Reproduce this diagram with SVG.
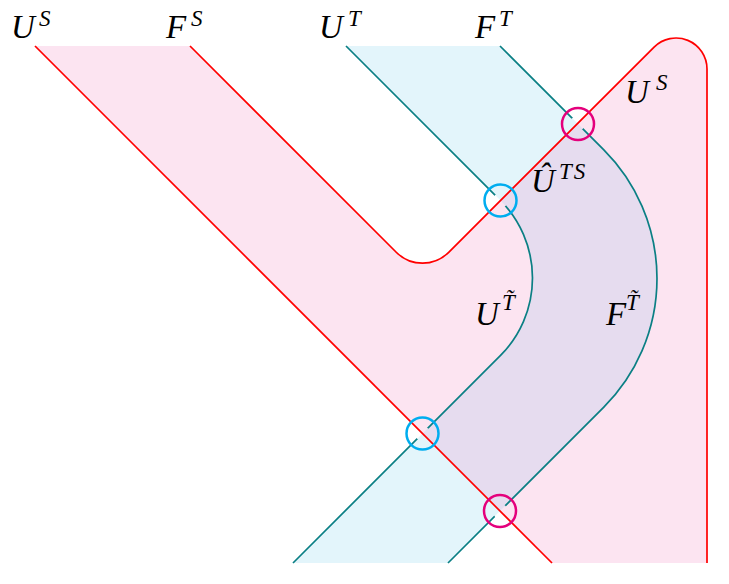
<svg xmlns="http://www.w3.org/2000/svg" width="729" height="584" viewBox="0 0 729 584">
<style>
.lbl{font-family:"Liberation Serif","DejaVu Serif",serif;font-style:italic;font-size:33px;fill:#000}
.sup{font-family:"Liberation Serif","DejaVu Serif",serif;font-style:italic;font-size:23px;fill:#000}
.red{fill:none;stroke:#ff0000;stroke-width:1.7}
.teal{fill:none;stroke:#0a7f84;stroke-width:1.7}
.ring{fill:none;stroke-width:2.5}
</style>
<defs>
<path id="pinkRegion" d="M35,46 L190,46 L396.5,252.5 A37,37 0 0 0 448.7,252.3 L654.1,47.1 A31,31 0 0 1 707,69 L707,563 L552,563 Z"/>
<path id="band" d="M346,46 L500,46 L603.6,149.6 A182.3,182.3 0 0 1 603.6,407.4 L448,563 L293,563 L500.3,355.7 A109.9,109.9 0 0 0 500.3,200.3 Z"/>
<clipPath id="pinkClip"><use href="#pinkRegion"/></clipPath>
<mask id="gaps" maskUnits="userSpaceOnUse" x="0" y="0" width="729" height="584">
<rect x="0" y="0" width="729" height="584" fill="#fff"/>
<circle cx="500.4" cy="200.4" r="7.5" fill="#000"/>
<circle cx="577.5" cy="123.5" r="7.5" fill="#000"/>
<circle cx="422.5" cy="433.5" r="7.5" fill="#000"/>
<circle cx="500" cy="511" r="7.5" fill="#000"/>
</mask>
</defs>
<g id="regions">
<use href="#pinkRegion" fill="#fce4f1"/>
<use href="#band" fill="#e3f5fb"/>
<use href="#band" fill="#e6dcef" clip-path="url(#pinkClip)"/>
</g>
<g id="connectors">
<path class="red" d="M35,46 L552,563"/>
<path class="red" d="M190,46 L396.5,252.5 A37,37 0 0 0 448.7,252.3 L654.1,47.1 A31,31 0 0 1 707,69 L707,563"/>
<g mask="url(#gaps)">
<path class="teal" d="M346,46 L500.3,200.3 A109.9,109.9 0 0 1 500.3,355.7 L293,563"/>
<path class="teal" d="M500,46 L603.6,149.6 A182.3,182.3 0 0 1 603.6,407.4 L448,563"/>
</g>
</g>
<g id="crossings">
<circle class="ring" cx="578" cy="124" r="16" stroke="#e4007c"/>
<circle class="ring" cx="500" cy="511" r="16" stroke="#e4007c"/>
<circle class="ring" cx="500.5" cy="200.5" r="16" stroke="#00adef"/>
<circle class="ring" cx="422.5" cy="433.5" r="16" stroke="#00adef"/>
</g>
<g id="labels">
<text class="lbl" x="11" y="38">U</text><text class="sup" x="39" y="26">S</text>
<text class="lbl" x="166" y="38">F</text><text class="sup" x="191" y="26">S</text>
<text class="lbl" x="319" y="38">U</text><text class="sup" x="348" y="26">T</text>
<text class="lbl" x="475" y="38">F</text><text class="sup" x="499" y="26">T</text>
<text class="lbl" x="625" y="103">U</text><text class="sup" x="656" y="90">S</text>
<text class="lbl" x="531" y="192">Û</text><text class="sup" x="559" y="179" letter-spacing="2">TS</text>
<text class="lbl" x="475" y="325">U</text><text class="sup" x="502" y="310">T̃</text>
<text class="lbl" x="606" y="325">F</text><text class="sup" x="626" y="310">T̃</text>
</g>
</svg>
